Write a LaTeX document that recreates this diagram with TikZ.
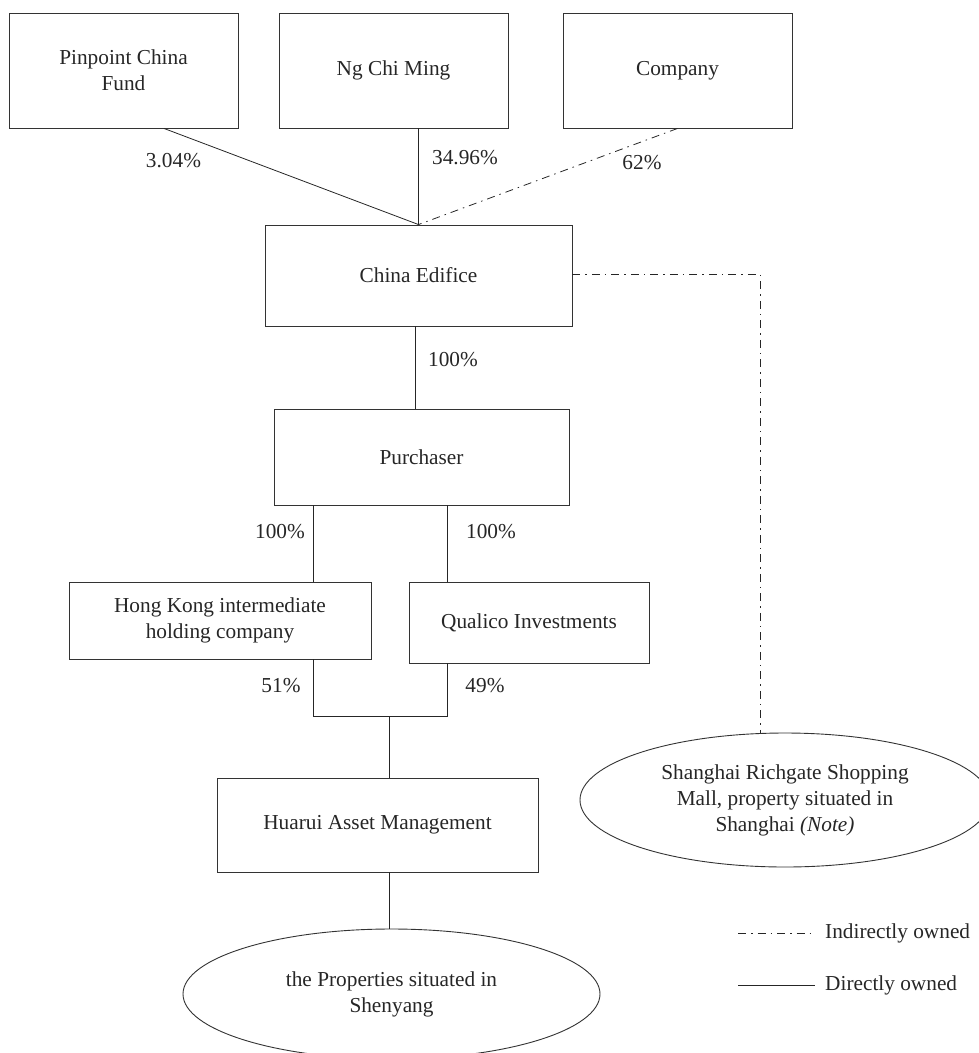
\documentclass[tikz,border=0pt]{standalone}
\usepackage{fontspec}
\setmainfont{Liberation Serif}
\usetikzlibrary{shapes.geometric}
\begin{document}
\begin{tikzpicture}[x=1pt,y=-1pt,
  every node/.style={font=\fontsize{21.3}{26}\selectfont, text=black!85},
  box/.style={draw=black!80, line width=0.9pt, rectangle, align=center, inner sep=0pt},
  oval/.style={draw=black!80, line width=0.9pt, ellipse, align=center, inner sep=0pt},
  direct/.style={draw=black!85, line width=0.8pt},
  indirect/.style={draw=black!85, line width=0.8pt, dash pattern=on 8pt off 5pt on 1.5pt off 5pt},
  pct/.style={inner sep=0pt}]
\useasboundingbox (0,0) rectangle (979,1053);
\clip (0,0) rectangle (979,1053);
% boxes
\node[box, minimum width=229pt, minimum height=115pt] (pin) at (123.5,70.5) {Pinpoint China\\Fund};
\node[box, minimum width=229pt, minimum height=115pt] (ng) at (393.5,70.5) {Ng Chi Ming};
\node[box, minimum width=229pt, minimum height=115pt] (comp) at (677.5,70.5) {Company};
\node[box, minimum width=307pt, minimum height=101pt] (ce) at (418.5,275.5) {China Edifice};
\node[box, minimum width=295pt, minimum height=96pt] (pur) at (421.5,457) {Purchaser};
\node[box, minimum width=302pt, minimum height=77pt] (hk) at (220,620.5) {Hong Kong intermediate\\holding company};
\node[box, minimum width=240pt, minimum height=81pt] (qi) at (529,622.5) {Qualico Investments};
\node[box, minimum width=321pt, minimum height=94pt] (hu) at (377.5,825) {Huarui Asset Management};
\node[oval, minimum width=417pt, minimum height=130pt] (prop) at (391.5,994) {the Properties situated in\\Shenyang};
\node[oval, minimum width=410pt, minimum height=134pt] (sh) at (785,800) {Shanghai Richgate Shopping\\Mall, property situated in\\Shanghai \textit{(Note)}};
% connectors
\draw[direct] ([xshift=40.5pt]pin.south) -- (ce.north);
\draw[direct] (ce.north |- ng.south) -- (ce.north);
\draw[indirect] (comp.south) -- (ce.north);
\coordinate (cd) at (415,326);
\draw[direct] (cd) -- (cd |- pur.north);
\coordinate (pl) at (313,505);
\coordinate (pr) at (447,505);
\draw[direct] (pl) -- (pl |- hk.north);
\draw[direct] (pr) -- (pr |- qi.north);
\coordinate (jl) at (313,716);
\coordinate (jr) at (447,716);
\coordinate (jm) at (389,716);
\draw[direct] (jl |- hk.south) -- (jl) -- (jr) -- (jr |- qi.south);
\draw[direct] (jm) -- (jm |- hu.north);
\draw[direct] (jm |- hu.south) -- (jm |- prop.north);
\coordinate (cr) at (760,274);
\draw[indirect] (ce.east |- cr) -- (cr) -- (cr |- sh.north);
% labels
\node[pct] (l1) at (173.5,161) {3.04\%};
\node[pct] (l2) at (465,158) {34.96\%};
\node[pct] (l3) at (642,163) {62\%};
\node[pct] (l4) at (453,360) {100\%};
\node[pct] (l5) at (280,532) {100\%};
\node[pct] (l6) at (491,532) {100\%};
\node[pct] (l7) at (281,686) {51\%};
\node[pct] (l8) at (485,686) {49\%};
% legend
\coordinate (la) at (738,933);
\coordinate (lb) at (815,933);
\coordinate (lc) at (738,985);
\coordinate (ld) at (815,985);
\draw[indirect] (la) -- (lb);
\draw[direct] (lc) -- (ld);
\node[anchor=west, inner sep=0pt] (t1) at (825,933) {Indirectly owned};
\node[anchor=west, inner sep=0pt] (t2) at (825,985) {Directly owned};
\end{tikzpicture}
\end{document}
